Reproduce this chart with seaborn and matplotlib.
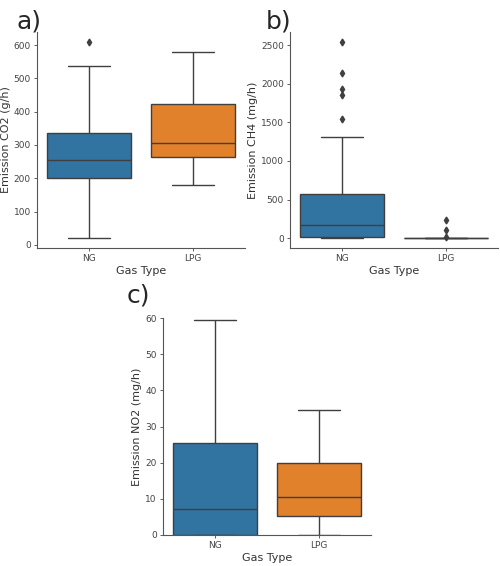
import matplotlib
matplotlib.use("Agg")
import matplotlib.pyplot as plt
import numpy as np
import pandas as pd
import seaborn as sns

# box summaries: whisker low, Q1, median, Q3, whisker high
gas_types = ["NG", "LPG"]

co2_ng = [20, 200, 255, 335, 537]
co2_ng_fliers = [610]
co2_lpg = [180, 265, 307, 422, 580]
co2_lpg_fliers = []

ch4_ng = [0, 17, 177, 569, 1310]
ch4_ng_fliers = [1548, 1857, 1939, 2134, 2544]
ch4_lpg = [0, 0, 0, 0, 0]
ch4_lpg_fliers = [9, 107, 241]

no2_ng = [0, 0, 7.1, 25.5, 59.4]
no2_ng_fliers = []
no2_lpg = [0, 5.3, 10.6, 20.0, 34.7]
no2_lpg_fliers = []


def sample(stats, fliers, r=10):
    # values whose quartiles / whiskers reproduce the read summary exactly
    lo, q1, med, q3, hi = stats
    return [lo] + [q1] * r + [med] * r + [q3] * r + [hi] + list(fliers)


def long_df(col, ng, ng_f, lpg, lpg_f):
    vals_ng = sample(ng, ng_f)
    vals_lpg = sample(lpg, lpg_f)
    return pd.DataFrame({
        "Gas Type": [gas_types[0]] * len(vals_ng) + [gas_types[1]] * len(vals_lpg),
        col: vals_ng + vals_lpg,
    })


co2 = long_df("Emission CO2 (g/h)", co2_ng, co2_ng_fliers, co2_lpg, co2_lpg_fliers)
ch4 = long_df("Emission CH4 (mg/h)", ch4_ng, ch4_ng_fliers, ch4_lpg, ch4_lpg_fliers)
no2 = long_df("Emission NO2 (mg/h)", no2_ng, no2_ng_fliers, no2_lpg, no2_lpg_fliers)

sns.set_style("ticks")
plt.rcParams["font.family"] = ["DejaVu Sans"]

fig = plt.figure(figsize=(5.0, 5.66), dpi=100)
W, H = 500, 566


def px_axes(left, top, right, bottom):
    return fig.add_axes([left / W, 1 - bottom / H, (right - left) / W, (bottom - top) / H])


ax_a = px_axes(37, 32, 245, 248)
ax_b = px_axes(290, 32, 498, 248)
ax_c = px_axes(163, 318, 371, 535)

line_col = "#3f3f3f"
box_kw = dict(
    x="Gas Type", hue="Gas Type", order=gas_types, hue_order=gas_types,
    palette=sns.color_palette()[:2], saturation=0.75, legend=False,
    linecolor=line_col, linewidth=1.0, width=0.8,
    flierprops=dict(marker="d", markerfacecolor=line_col, markeredgecolor=line_col,
                    markersize=3.5),
)

for ax, df, letter, lx, ly in [
    (ax_a, co2, "a)", 16, 22),
    (ax_b, ch4, "b)", 266, 22),
    (ax_c, no2, "c)", 127, 295),
]:
    ycol = df.columns[1]
    sns.boxplot(data=df, y=ycol, ax=ax, **box_kw)
    ax.set_xlabel("Gas Type", fontsize=8, color="#333333", labelpad=2)
    ax.set_ylabel(ycol, fontsize=8, color="#333333", labelpad=2)
    ax.tick_params(labelsize=6.5, length=2.5, width=0.6, colors="#444444", pad=2)
    for s in ax.spines.values():
        s.set_linewidth(0.8)
        s.set_color("#555555")
    sns.despine(ax=ax)
    fig.text(lx / W, 1 - ly / H, letter, fontsize=18, va="center", ha="left")

ax_a.set_yticks([0, 100, 200, 300, 400, 500, 600])
ax_b.set_yticks([0, 500, 1000, 1500, 2000, 2500])
ax_c.set_ylim(0, 60)

fig.savefig("out.png", dpi=100)
